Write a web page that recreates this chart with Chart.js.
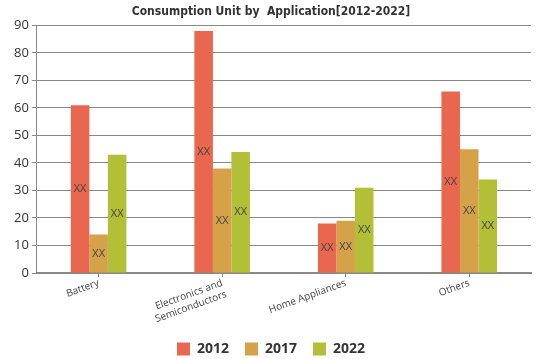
<!DOCTYPE html>
<html>
<head>
<meta charset="utf-8">
<script src="https://cdn.jsdelivr.net/npm/chart.js@4"></script>
<style>
  html, body { margin: 0; padding: 0; background: #fff; }
  #wrap { width: 539px; height: 359px; }
</style>
</head>
<body>
<div id="wrap"><canvas id="bar-chart"></canvas></div>
<script>
const categories = ["Battery", ["Electronics and", "Semiconductors"], "Home Appliances", "Others"];
const years = ["2012", "2017", "2022"];
const values2012 = [61, 88, 18, 66];
const values2017 = [14, 38, 19, 45];
const values2022 = [43, 44, 31, 34];
const yTicks = [0, 10, 20, 30, 40, 50, 60, 70, 80, 90];

// escribe "XX" en medio de cada barra
const xxLabels = {
  id: "xxLabels",
  afterDatasetsDraw(chart) {
    const ctx = chart.ctx;
    ctx.save();
    ctx.font = "11px 'Open Sans', sans-serif";
    ctx.fillStyle = "#444";
    ctx.textAlign = "center";
    ctx.textBaseline = "middle";
    chart.data.datasets.forEach((ds, i) => {
      chart.getDatasetMeta(i).data.forEach((bar) => {
        ctx.fillText("XX", bar.x, (bar.y + bar.base) / 2);
      });
    });
    ctx.restore();
  },
};

const ctx = document.querySelector("#bar-chart").getContext("2d");

const barChart = new Chart(ctx, {
  type: "bar",
  data: {
    labels: categories,
    datasets: [
      { label: years[0], data: values2012, backgroundColor: "#e8674e" },
      { label: years[1], data: values2017, backgroundColor: "#d5a24a" },
      { label: years[2], data: values2022, backgroundColor: "#b4bf38" },
    ],
  },
  options: {
    responsive: true,
    maintainAspectRatio: false,
    animation: false,
    layout: { padding: { left: 11, right: 8, top: 0, bottom: -7 } },
    datasets: { bar: { categoryPercentage: 0.45, barPercentage: 1 } },
    plugins: {
      title: {
        display: true,
        text: "Consumption Unit by  Application[2012-2022]",
        color: "#333",
        font: { family: "'DejaVu Sans Condensed', sans-serif", size: 12, weight: "bold" },
        padding: { top: 5, bottom: 6 },
      },
      legend: {
        position: "bottom",
        labels: {
          color: "#333",
          boxWidth: 13,
          boxHeight: 13,
          padding: 16,
          font: { family: "'Open Sans', sans-serif", size: 14, weight: "bold", lineHeight: 1 },
        },
      },
      tooltip: { enabled: false },
    },
    scales: {
      x: {
        afterFit: (axis) => {
          axis.height = 53;
        },
        grid: { drawOnChartArea: false, offset: false, tickLength: 4, color: "#888" },
        border: { color: "#888", width: 2 },
        ticks: {
          color: "#444",
          padding: 0,
          minRotation: 20,
          maxRotation: 20,
          font: { family: "'Open Sans', sans-serif", size: 10 },
        },
      },
      y: {
        min: 0,
        max: 90,
        afterBuildTicks: (axis) => {
          axis.ticks = yTicks.map((v) => ({ value: v }));
        },
        grid: { color: "#888", tickLength: 5 },
        border: { color: "#888" },
        ticks: {
          color: "#333",
          padding: 3,
          font: { family: "'Open Sans', sans-serif", size: 13 },
        },
      },
    },
  },
  plugins: [xxLabels],
});
</script>
</body>
</html>
